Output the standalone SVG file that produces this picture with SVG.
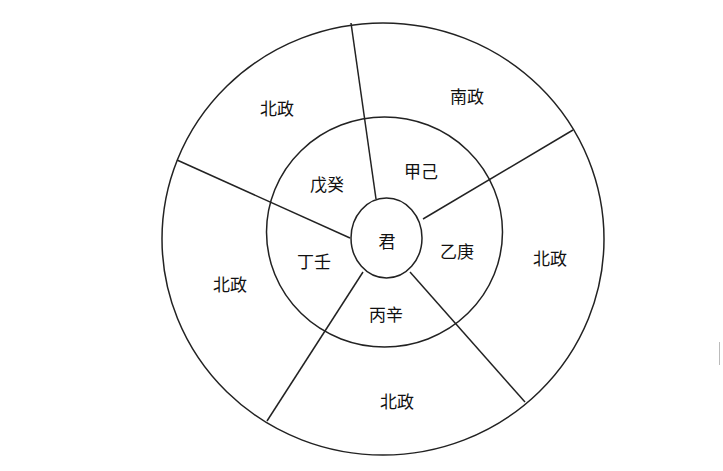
<svg xmlns="http://www.w3.org/2000/svg" width="723" height="471" viewBox="0 0 723 471">
<style>
.s{fill:none;stroke:#222;stroke-width:1.5}
text{font-family:"Noto Sans CJK SC",sans-serif;font-size:17px;fill:#111;text-anchor:middle;dominant-baseline:central}
</style>
<rect width="723" height="471" fill="#fff"/>
<g id="outer"><ellipse class="s" cx="383" cy="239" rx="221" ry="216"/></g>
<g id="inner"><ellipse class="s" cx="384.5" cy="232" rx="118" ry="115"/></g>
<g id="connectors">
<line class="s" x1="351" y1="23" x2="376" y2="199"/>
<line class="s" x1="573" y1="130" x2="423" y2="219"/>
<line class="s" x1="525" y1="402" x2="410" y2="272"/>
<line class="s" x1="267" y1="421" x2="363" y2="272"/>
<line class="s" x1="177" y1="160" x2="350" y2="238"/>
</g>
<g id="center"><ellipse class="s" cx="386.5" cy="238" rx="35.5" ry="40" fill="#fff"/><text x="387" y="240">君</text></g>
<g id="n1"><text x="277" y="107">北政</text></g>
<g id="n2"><text x="467" y="95">南政</text></g>
<g id="n3"><text x="550" y="257">北政</text></g>
<g id="n4"><text x="397" y="400">北政</text></g>
<g id="n5"><text x="230" y="283">北政</text></g>
<g id="i1"><text x="327" y="183">戊癸</text></g>
<g id="i2"><text x="421" y="170">甲己</text></g>
<g id="i3"><text x="457" y="250">乙庚</text></g>
<g id="i4"><text x="386" y="313">丙辛</text></g>
<g id="i5"><text x="314" y="260">丁壬</text></g>
<line x1="719.5" y1="342" x2="719.5" y2="365" stroke="#bbb" stroke-width="1"/>
</svg>
